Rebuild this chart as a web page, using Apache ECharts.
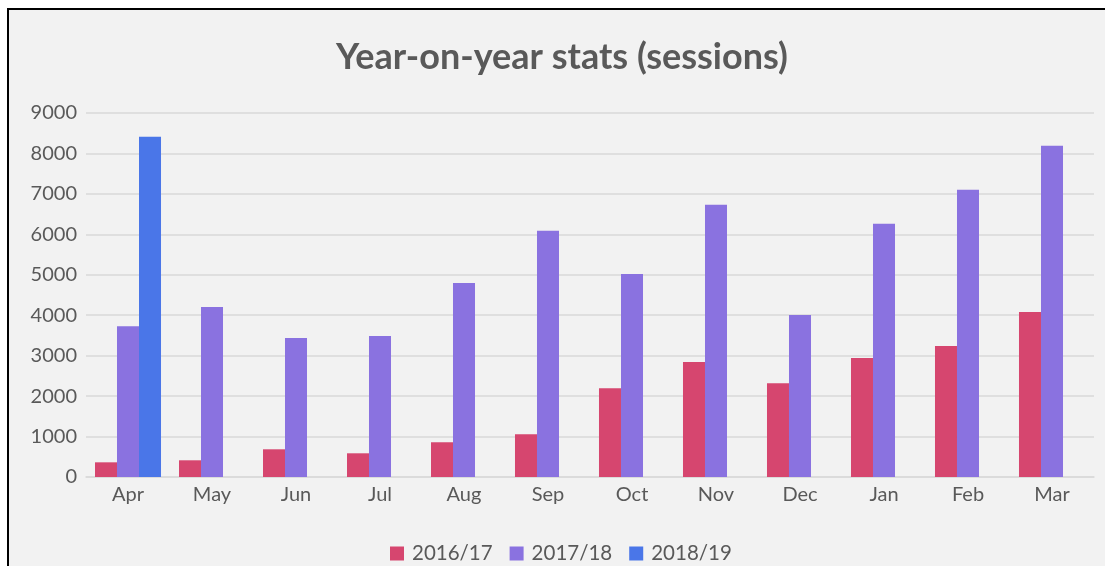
<!DOCTYPE html>
<html>
<head>
<meta charset="utf-8">
<script src="https://cdn.jsdelivr.net/npm/echarts@6/dist/echarts.min.js"></script>
<style>
html,body{margin:0;padding:0;background:#fff;overflow:hidden;}
#frame{position:absolute;left:7px;top:8px;width:1110px;height:570px;border:2px solid #000;background:#f2f2f2;box-sizing:border-box;}
#chart{position:absolute;left:0;top:0;width:1105px;height:566px;}
</style>
</head>
<body>
<div id="frame"></div>
<div id="chart"></div>
<script>
const titleText = 'Year-on-year stats (sessions)';
const categories = ['Apr','May','Jun','Jul','Aug','Sep','Oct','Nov','Dec','Jan','Feb','Mar'];
const seriesNames = ['2016/17','2017/18','2018/19'];
const s2016 = [363, 413, 685, 586, 859, 1057, 2197, 2841, 2320, 2940, 3237, 4079];
const s2017 = [3730, 4203, 3435, 3485, 4798, 6086, 5021, 6730, 4005, 6259, 7102, 8192];
const s2018 = [8415, null, null, null, null, null, null, null, null, null, null, null];
const yTicks = {min: 0, max: 9000, interval: 1000};
const colors = ['#d6466f', '#8a72e0', '#4a76e8'];

const chart = echarts.init(document.getElementById('chart'), null, {renderer: 'canvas'});
const font = 'Lato, "Open Sans", sans-serif';
const dataSets = [s2016, s2017, s2018];
chart.setOption({
  backgroundColor: 'transparent',
  animation: false,
  title: {
    text: titleText,
    left: 331,
    top: 34,
    textStyle: {fontFamily: font, fontSize: 36, fontWeight: 'bold', color: '#595959'}
  },
  legend: {
    bottom: -3,
    left: 385,
    itemWidth: 14,
    itemHeight: 14,
    itemGap: 17,
    icon: 'rect',
    textStyle: {fontFamily: font, fontSize: 20.5, color: '#595959', padding: [0,0,0,3]},
    data: seriesNames
  },
  grid: {left: 86, right: 11, top: 113, bottom: 89, containLabel: false},
  xAxis: {
    type: 'category',
    data: categories,
    axisLine: {lineStyle: {color: '#d9d9d9', width: 1.5}},
    axisTick: {show: false},
    axisLabel: {fontFamily: font, fontSize: 20, color: '#595959', margin: 8}
  },
  yAxis: {
    type: 'value',
    min: yTicks.min, max: yTicks.max, interval: yTicks.interval,
    axisLine: {show: false},
    axisTick: {show: false},
    axisLabel: {fontFamily: font, fontSize: 20, color: '#595959', margin: 9, formatter: v => String(v)},
    splitLine: {lineStyle: {color: '#d9d9d9', width: 1.5}}
  },
  series: seriesNames.map((n, i) => ({
    name: n,
    type: 'bar',
    data: dataSets[i],
    itemStyle: {color: colors[i]},
    barGap: '0%',
    barCategoryGap: '21.4%'
  }))
});
</script>
</body>
</html>
